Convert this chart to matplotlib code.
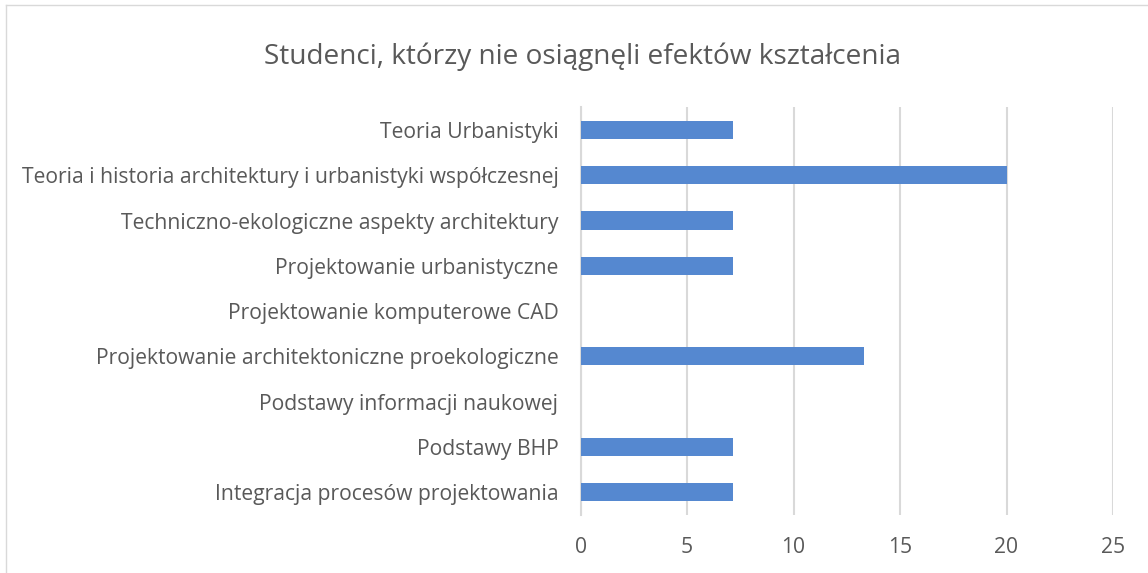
import matplotlib.pyplot as plt
from matplotlib.lines import Line2D

# Subjects (bottom to top) and % of students who did not achieve outcomes
subjects = [
    "Integracja procesów projektowania",
    "Podstawy BHP",
    "Podstawy informacji naukowej",
    "Projektowanie architektoniczne proekologiczne",
    "Projektowanie komputerowe CAD",
    "Projektowanie urbanistyczne",
    "Techniczno-ekologiczne aspekty architektury",
    "Teoria i historia architektury i urbanistyki współczesnej",
    "Teoria Urbanistyki",
]
values = [7.14, 7.14, 0, 13.33, 0, 7.14, 7.14, 20, 7.14]
xticks = [0, 5, 10, 15, 20, 25]

text_color = "#595959"
bar_color = "#5588D0"
grid_color = "#D9D9D9"

plt.rcParams['font.family'] = ['Open Sans', 'DejaVu Sans']

fig = plt.figure(figsize=(11.48, 5.73), dpi=100)
ax = fig.add_axes([0.5058, 0.1017, 0.9695 - 0.5058, 0.8126 - 0.1017])

ax.barh(range(len(subjects)), values, height=0.4, color=bar_color, zorder=3)
ax.set_xlim(0, 25)
ax.set_ylim(-0.5, len(subjects) - 0.5)
ax.set_xticks(xticks)
ax.set_yticks(range(len(subjects)))
ax.set_yticklabels(subjects)
ax.tick_params(axis='both', length=0, labelsize=15.2, colors=text_color)
ax.tick_params(axis='y', pad=16)
ax.tick_params(axis='x', pad=16)
ax.grid(axis='x', color=grid_color, linewidth=1.5, zorder=0)
for s in ['top', 'right', 'bottom']:
    ax.spines[s].set_visible(False)
ax.spines['left'].set_color(grid_color)
ax.spines['left'].set_linewidth(1.5)

fig.suptitle("Studenci, którzy nie osiągnęli efektów kształcenia",
             x=0.507, y=0.925, fontsize=20.2, color=text_color)

# chart outer border (only left and top visible in the crop)
fig.add_artist(Line2D([6 / 1148, 6 / 1148], [0, 1 - 5 / 573], transform=fig.transFigure,
                      color=grid_color, linewidth=1))
fig.add_artist(Line2D([6 / 1148, 1], [1 - 5 / 573, 1 - 5 / 573], transform=fig.transFigure,
                      color=grid_color, linewidth=1))

fig.savefig("out.png", dpi=100)
